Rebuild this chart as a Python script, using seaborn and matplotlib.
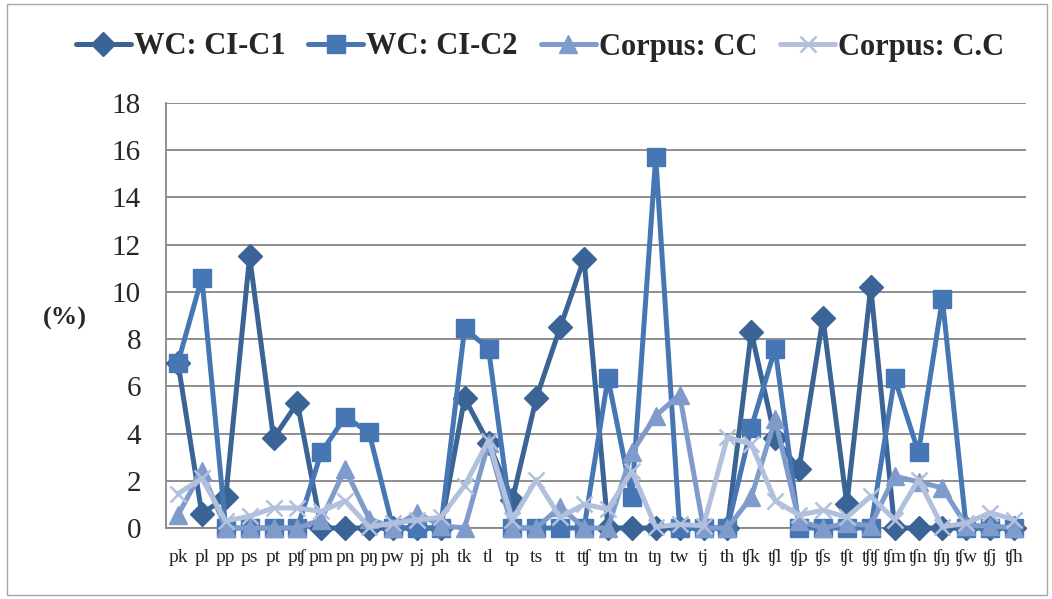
# -*- coding: utf-8 -*-
# Consonant cluster percentages: word count vs. corpus (line chart).

import matplotlib
matplotlib.use("Agg")
import matplotlib.pyplot as plt
from matplotlib.patches import Rectangle
import seaborn as sns
import pandas as pd

# Category labels (consonant pairs).
pairs = ["pk", "pl", "pp", "ps", "pt", "pʧ", "pm", "pn", "pŋ", "pw", "pj", "ph",
         "tk", "tl", "tp", "ts", "tt", "tʧ", "tm", "tn", "tŋ", "tw", "tj", "th",
         "ʧk", "ʧl", "ʧp", "ʧs", "ʧt", "ʧʧ", "ʧm", "ʧn", "ʧŋ", "ʧw", "ʧj", "ʧh"]

# Series values (%).
wc_c1 = [7.0, 0.6, 1.3, 11.5, 3.8, 5.3, 0, 0, 0, 0, 0, 0,
         5.5, 3.6, 1.2, 5.5, 8.5, 11.4, 0, 0, 0, 0, 0, 0,
         8.3, 3.8, 2.5, 8.9, 1.0, 10.2, 0, 0, 0, 0, 0, 0]
wc_c2 = [7.0, 10.6, 0, 0, 0, 0, 3.2, 4.7, 4.05, 0, 0, 0,
         8.45, 7.6, 0, 0, 0, 0, 6.35, 1.3, 15.7, 0, 0, 0,
         4.25, 7.6, 0, 0, 0, 0, 6.35, 3.2, 9.7, 0, 0, 0]
corpus_cc = [0.55, 2.4, 0, 0, 0, 0, 0.35, 2.5, 0.4, 0, 0.65, 0.1,
             0, 3.6, 0, 0, 0.9, 0, 0, 3.2, 4.75, 5.65, 0, 0,
             1.3, 4.6, 0.3, 0, 0.2, 0.1, 2.2, 1.95, 1.7, 0.1, 0.1, 0]
corpus_c_c = [1.45, 2.1, 0.3, 0.5, 0.85, 0.85, 0.7, 1.15, 0.05, 0.2, 0.35, 0.45,
              1.8, 3.7, 0.35, 2.05, 0.45, 1.0, 0.8, 2.4, 0.05, 0.15, 0.1, 3.85,
              3.55, 1.15, 0.55, 0.75, 0.45, 1.35, 0.35, 2.05, 0.05, 0.2, 0.65, 0.35]

series_names = ["WC: CI-C1", "WC: CI-C2", "Corpus: CC", "Corpus: C.C"]
series_values = [wc_c1, wc_c2, corpus_cc, corpus_c_c]
y_ticks = list(range(0, 19, 2))

# Styles per series.
colors = ["#3a6496", "#4677b4", "#7e9bcb", "#b1c1dd"]
markers = ["D", "s", "^", "x"]
msizes = [12.5, 13, 13, 11]

sns.set_style("white")
plt.rcParams["font.family"] = ["Liberation Serif", "DejaVu Serif"]

fig = plt.figure(figsize=(10.52, 5.99), dpi=100)
ax = fig.add_axes([166 / 1052, 1 - 528 / 599, 860 / 1052, 425 / 599])

# Long-form table for seaborn.
frames = []
for name, vals in zip(series_names, series_values):
    frames.append(pd.DataFrame({"pair": pairs, "pct": vals, "series": name}))
df = pd.concat(frames, ignore_index=True)

for i, name in enumerate(series_names):
    sub = df[df["series"] == name]
    sns.lineplot(data=sub, x="pair", y="pct", ax=ax, sort=False,
                 color=colors[i], linewidth=3.6, marker=markers[i],
                 markersize=msizes[i], markeredgecolor=colors[i],
                 markeredgewidth=1.8 if markers[i] == "x" else 1,
                 label=name, clip_on=False, zorder=3 + i)

# Axes styling.
ax.set_xlim(-0.5, len(pairs) - 0.5)
ax.set_ylim(0, 18)
ax.set_yticks(y_ticks)
ax.set_yticklabels([str(t) for t in y_ticks], fontsize=21)
ax.tick_params(axis="y", length=0, pad=18)
ax.set_xticks(range(len(pairs)))
ax.set_xticklabels(pairs, fontsize=14)
ax.set_xticks([i + 0.5 for i in range(-1, len(pairs))], minor=True)
ax.tick_params(axis="x", which="major", length=0, pad=15)
ax.tick_params(axis="x", which="minor", length=5, color="#868686", width=1.2)
ax.set_xlabel("")
ax.set_ylabel("")
ax.grid(axis="y", color="#868686", linewidth=1.3)
ax.set_axisbelow(True)
for side in ["top", "right"]:
    ax.spines[side].set_visible(False)
for side in ["left", "bottom"]:
    ax.spines[side].set_color("#868686")
    ax.spines[side].set_linewidth(1.3)

fig.text(65 / 1052, 1 - 318 / 599, "(%)", fontsize=19, fontweight="bold",
         ha="center", va="center")

handles, labels = ax.get_legend_handles_labels()
ax.legend(handles, labels, loc="center", ncol=4, frameon=False,
          bbox_to_anchor=(540 / 1052, 1 - 47 / 599), bbox_transform=fig.transFigure,
          prop={"size": 22, "weight": "bold"}, handlelength=1.8,
          handletextpad=0.1, columnspacing=0.75)

# Light outer border.
fig.patches.append(Rectangle((7 / 1052, 4 / 599), 1040 / 1052, 591 / 599,
                             transform=fig.transFigure, fill=False,
                             edgecolor="#a6a6a6", linewidth=1))

fig.savefig("out.png", dpi=100)
